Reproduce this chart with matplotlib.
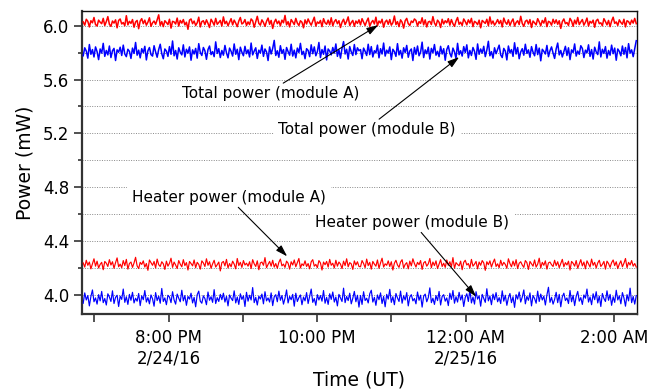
import numpy as np
import pandas as pd
import matplotlib
matplotlib.use("Agg")
import matplotlib.pyplot as plt
import matplotlib.dates as mdates
from matplotlib.ticker import FixedLocator, MultipleLocator

# mean levels (mW) and sample-to-sample deviations
# deviations are in steps of dev_step mW
total_a_level = 6.022
total_b_level = 5.803
heater_a_level = 4.224
heater_b_level = 3.968
dev_step = 0.0022

total_a_dev = [
    3, -8, 12, 5, -14, 7, 0, 18, -6, -11, 9, 2, -3, 15, -9, 4, 21, -5,
    -12, 6, -1, 10, -17, 8, 13, -4, 1, -10, 24, -7, 5, -2, 11, -15, 3, 8,
    -20, 6, 14, -3, 9, -8, 2, 17, -12, 0, 6, -5, 10, 27, -9, 4, -13, 7,
    1, -6, 12, -18, 5, 3, -4, 16, -11, 8, -1, 11, -7, 2, -22, 9, 13, -3,
    6, -9, 0, 19, -14, 4, 7, -6, 10, -2, -16, 12, 3, -8, 15, -5, 1, 8,
    -11, 20, -3, 5, -10, 2, 14, -7, 9, -1, -13, 6, 18, -4, 0, 11, -9, 3,
    -6, 13, 7, -15, 4, 22, -2, -8, 10, 1, -12, 5, 16, -5, 8, -19, 2, 12,
    -3, 6, -10, 9, 0, 25, -7, 4, -14, 11, 3, -6, 15, -1, -9, 7, 2, -17,
    10, -4, 13, 1, -8, 6, 19, -11, 3, -2, 8, -13, 14, 0, -5, 9, -7, 17,
    -10, 4, 11, -3, 7, -16, 2, 12, -6, 5, 20, -9, 1, 8, -12, 6, -2, 10,
    -7, 14, 2, -9, 5, 16, -12, 1, 8, -4, 19, -10, 6, -1, 12, -15, 3, 9,
    -5, 11, -8, 0, 23, -6, 4, -13, 10, 2, -18, 7, 15, -3, -9, 6, 1, 13,
    8, -11, 4, -2, 17, -7, 10, -14, 3, 5, -6, 21, -1, -10, 9, 2, -16, 12,
    -4, 7, 0, 14, -8, 11, -3, -12, 6, 18, -5, 2, -9, 13, 4, -7, 10, -1,
    15, -13, 5, 1, -6, 9, -17, 8, 3, -2, 12, -10, 20, -4, 6, -8, 0, 11,
    -3, 8, -14, 16, 2, -5, 10, -9, 4, 13, -11, 1, 7, -6, 22, -2, -12, 5,
    9, -4, 11, -16, 6, 0, -7, 14, 3, -10, 8, -1, 17, -13, 5, 2, -8, 12,
    -2, 10, -5, 7, -19, 4, 13, -3, 1, -9, 15, 6, -12, 9, -4, 18, -6, 3,
    11, -8, 2, 16, -11, 5, -1, 9, -15, 7, 12, -3, 0, -10, 14, 4, -7, 8,
    -13, 6, 19, -2, 3, -9, 10, 1, -5, 12, -14, 7, 4, -6, 9, -1, 15, -3,
]
total_b_dev = [
    -12, 15, 4, -20, 26, -7, 9, -16, 18, 2, -25, 11, -3, 30, -14, 6, -9, 21,
    -18, 5, 13, -28, 8, 0, 17, -11, 24, -6, -15, 10, 3, -21, 14, -4, 33, -10,
    7, -19, 12, -2, 20, -26, 5, 16, -8, -13, 22, 1, -17, 9, 27, -5, -22, 11,
    4, -14, 19, -7, 38, -12, 6, -23, 15, 0, -9, 25, -16, 10, -3, 18, -27, 8,
    -6, 13, -20, 29, -1, -11, 16, 5, -24, 9, 21, -8, 2, -15, 35, -4, 12, -18,
    6, -10, 23, -2, -19, 14, 3, -13, 28, -7, 10, -25, 17, 0, -12, 20, -5, 8,
    -16, 31, -9, 4, 15, -21, 7, -3, 24, -14, 11, 1, -28, 18, -6, 13, 40, -11,
    5, -17, 22, -4, 9, -24, 16, 2, -10, 27, -13, 7, -19, 14, -1, 30, -8, 3,
    -22, 12, 6, -15, 25, -5, 18, -12, 2, 33, -18, 9, -7, 21, -26, 11, 4, -9,
    16, -3, 28, -14, 8, -20, 13, 36, -6, 10, -23, 19, 1, -11, 26, -8, 15, 5,
    9, -22, 14, 3, -11, 27, -8, 19, -16, 5, -2, 24, -19, 12, -6, 31, -13, 7,
    -3, 18, -25, 10, 2, -14, 29, -9, 6, -20, 15, -1, 23, -17, 4, 11, -28, 16,
    -7, 21, -12, 0, 34, -18, 8, -5, 17, -23, 13, -2, 26, -10, 3, -15, 20, -6,
    12, -27, 9, 22, -4, -16, 14, 1, -21, 30, -8, 5, -13, 19, -1, 25, -19, 6,
    -11, 16, 3, -24, 28, -7, 11, -3, 20, -15, 7, 37, -12, 2, -20, 15, -5, 10,
    24, -9, -18, 13, 4, -26, 21, -2, 9, -14, 32, -6, 16, -22, 1, 12, -10, 27,
    -4, 8, -17, 19, 0, -12, 26, -8, 14, -29, 10, 3, -6, 23, -15, 5, 18, -3,
    -21, 11, 31, -9, 6, -16, 2, 20, -11, 15, -25, 8, -1, 28, -13, 4, -7, 22,
    13, -18, 7, -2, 25, -14, 9, -23, 17, 1, -8, 35, -16, 10, -4, 19, -20, 6,
    -10, 24, -5, 14, -27, 11, 3, -12, 21, -7, 16, -19, 29, -3, 8, -15, 12, 39,
]
heater_a_dev = [
    5, -9, 14, -3, 8, -15, 2, 19, -6, 11, -12, 0, 7, -18, 10, 4, -7, 16,
    -2, 9, -13, 6, 22, -8, 1, -11, 13, -4, 17, -16, 3, 8, -10, 5, 24, -5,
    -14, 7, 0, 12, -9, 3, -20, 15, 6, -3, 10, -12, 18, -1, -7, 9, 2, -17,
    11, -6, 4, 21, -10, 8, -2, -14, 13, 1, -8, 16, -4, 6, -19, 10, 3, -5,
    15, -11, 7, 0, -16, 12, 5, -7, 19, -3, 9, -13, 2, 14, -9, -1, 8, -22,
    6, 10, -5, 17, -12, 3, -8, 11, 1, -15, 20, -4, 7, -10, 13, -2, 4, -6,
    9, -14, 16, 2, -7, 12, -18, 5, 8, -3, 23, -11, 0, 10, -6, 14, -9, 3,
    -13, 7, 18, -5, 1, -10, 11, 4, -16, 9, -2, 15, -8, 6, 20, -12, 2, -4,
    12, -7, 3, -15, 9, 16, -6, 0, -11, 13, 5, -19, 8, -1, 10, -9, 17, -3,
    4, -12, 14, -6, 8, 1, -14, 11, -4, 19, -8, 6, 2, -17, 12, -2, 9, -7,
    -8, 13, 3, -11, 18, -4, 7, -16, 10, 1, -6, 15, -13, 5, 21, -9, 2, -3,
    12, -7, 9, -19, 4, 14, -2, -10, 8, 16, -12, 0, 6, -15, 11, -5, 19, 3,
    -9, 7, -1, 13, -17, 5, 10, -6, 2, 20, -11, 8, -4, 12, -14, 1, 16, -7,
    4, -10, 15, -3, 9, -8, 23, -13, 6, 0, -5, 11, -18, 7, 14, -2, 3, -12,
    17, -6, 1, 10, -15, 8, -3, 13, 5, -20, 9, -1, 12, -9, 6, 18, -7, 2,
    -11, 14, -4, 7, 0, -13, 19, 3, -8, 11, -5, 16, -14, 4, 9, -2, -10, 13,
    6, -17, 10, 2, -6, 15, -9, 1, 21, -12, 7, -3, 12, -16, 5, 8, -1, -7,
    14, -4, 9, -11, 3, 17, -8, 6, -2, 11, -19, 10, 4, -6, 13, -13, 1, 16,
    -5, 8, -15, 12, 2, -9, 18, -3, 7, -12, 5, 14, -7, 0, 10, -16, 11, 3,
    -10, 6, 15, -4, 9, -14, 1, 12, -8, 4, 20, -11, 7, -2, 13, -6, 3, -9,
]
heater_b_dev = [
    -15, 20, -4, 11, -24, 8, 30, -10, 3, -18, 14, -7, 25, -13, 1, -21, 17, 6,
    -9, 27, -16, 5, 12, -26, 9, -2, 33, -12, 7, -19, 15, -5, 22, -14, 2, -8,
    18, -23, 10, -3, 28, -11, 4, -17, 13, 0, -25, 21, -6, 9, -15, 35, -9, 3,
    -20, 12, 6, -13, 24, -4, -18, 16, 2, -10, 29, -7, 11, -22, 8, -1, 19, -14,
    5, -27, 14, 26, -8, -15, 10, 1, -20, 23, -5, 7, -12, 31, -16, 4, -9, 15,
    -3, 19, -11, 8, -24, 13, 2, -6, 27, -14, 6, -19, 17, -2, 10, -26, 22, -8,
    12, -4, 38, -13, 5, -21, 9, -1, 16, -17, 24, -7, 3, -11, 20, -23, 7, 14,
    -10, 26, -5, 11, -18, 2, 30, -14, 8, -3, 15, -25, 19, -9, 4, 13, -20, 6,
    -7, 21, -16, 9, 33, -12, 1, -22, 14, -4, 11, -8, 28, -15, 5, -19, 17, -2,
    23, -11, 6, -24, 15, 3, -9, 36, -13, 8, -6, 19, -17, 2, 25, -10, 12, -28,
    11, -19, 24, -6, 2, -14, 17, 29, -11, 5, -22, 13, -3, 20, -16, 8, -27, 15,
    -1, 32, -12, 7, -20, 18, 3, -9, 26, -15, 10, -4, 21, -24, 6, 14, -7, 1,
    -17, 23, -5, 12, -28, 9, 16, -10, 4, 37, -13, 2, -19, 11, -6, 25, -21, 8,
    14, -8, 3, -23, 19, -2, 28, -15, 7, -11, 22, -4, 13, -26, 5, 17, -9, 31,
    -14, 6, -18, 24, -1, 10, -25, 15, 2, -12, 34, -7, 9, -20, 16, -3, 21, -10,
    4, -16, 27, -8, 12, -22, 3, 18, -13, 7, -29, 14, -1, 23, -11, 6, 30, -17,
    8, -5, 20, -24, 11, 1, -15, 26, -9, 16, -4, 9, -21, 13, 39, -12, 5, -18,
    -2, 22, -13, 15, -27, 7, 19, -6, 3, -16, 28, -10, 12, -23, 8, 25, -8, 4,
    -19, 13, 2, 33, -11, 6, -20, 17, -3, 24, -14, 9, -26, 18, 1, -9, 27, -5,
    15, -22, 7, -12, 29, -4, 10, -17, 21, 3, -25, 14, -7, 36, -13, 8, -18, 11,
]

t_start = "2016-02-24 18:51"
t_end = "2016-02-25 02:18"

tick_times = ["2016-02-24 20:00", "2016-02-24 22:00", "2016-02-25 00:00", "2016-02-25 02:00"]
tick_labels = ["8:00 PM\n2/24/16", "10:00 PM", "12:00 AM\n2/25/16", "2:00 AM"]
minor_times = ["2016-02-24 19:00", "2016-02-24 21:00", "2016-02-24 23:00", "2016-02-25 01:00"]

y_ticks = [4.0, 4.4, 4.8, 5.2, 5.6, 6.0]

times = pd.date_range(t_start, t_end, periods=len(total_a_dev))
tx = mdates.date2num(times.to_pydatetime())

def mw(level, dev):
    return level + np.array(dev) * dev_step

def tnum(s):
    return mdates.date2num(pd.Timestamp(s).to_pydatetime())

plt.rcParams['font.family'] = ['DejaVu Sans']

fig = plt.figure(figsize=(6.61, 3.92), dpi=100)
ax = fig.add_axes([0.124, 0.199, 0.8397, 0.773])

ax.plot(tx, mw(total_a_level, total_a_dev), color="#ff0000", lw=1.1, zorder=3)
ax.plot(tx, mw(total_b_level, total_b_dev), color="#0000ff", lw=1.1, zorder=3)
ax.plot(tx, mw(heater_a_level, heater_a_dev), color="#ff0000", lw=0.85, zorder=3)
ax.plot(tx, mw(heater_b_level, heater_b_dev), color="#0000ff", lw=0.85, zorder=3)

ax.set_xlim(tnum("2016-02-24 18:50"), tnum("2016-02-25 02:18:36"))
ax.set_ylim(3.855, 6.11)

ax.xaxis.set_major_locator(FixedLocator([tnum(s) for s in tick_times]))
ax.xaxis.set_minor_locator(FixedLocator([tnum(s) for s in minor_times]))
ax.set_xticklabels(tick_labels)
ax.yaxis.set_major_locator(FixedLocator(y_ticks))
ax.yaxis.set_minor_locator(MultipleLocator(0.2))
ax.set_yticklabels(["%.1f" % v for v in y_ticks])

ax.tick_params(axis="both", which="major", direction="out", length=5.5, width=1.1,
               labelsize=12, color="#222222")
ax.tick_params(axis="x", which="minor", direction="out", length=5.5, width=1.1, color="#222222")
ax.tick_params(axis="y", which="minor", direction="out", length=3, width=1.1, color="#222222")
ax.tick_params(axis="x", which="major", pad=5)

ax.grid(True, axis="y", which="both", linestyle=(0, (1, 1.5)), color="#888888", lw=0.7, zorder=0)
ax.set_axisbelow(True)

for side in ["left", "bottom"]:
    ax.spines[side].set_linewidth(1.6)
    ax.spines[side].set_color("#333333")
for side in ["top", "right"]:
    ax.spines[side].set_linewidth(1.0)
    ax.spines[side].set_color("#111111")

ax.set_xlabel("Time (UT)", fontsize=13.5, labelpad=2)
ax.set_ylabel("Power (mW)", fontsize=13.5, labelpad=6)

# annotations: text boxes and arrows
notes = [
    ("Total power (module A)", "2016-02-24 21:22:30", 5.498,
     "2016-02-24 21:32:40", 5.573, "2016-02-24 22:49:30", 6.005),
    ("Total power (module B)", "2016-02-24 22:40:30", 5.230,
     "2016-02-24 22:50:10", 5.305, "2016-02-24 23:54:50", 5.767),
    ("Heater power (module A)", "2016-02-24 20:49:00", 4.724,
     "2016-02-24 20:56:20", 4.649, "2016-02-24 21:35:50", 4.284),
    ("Heater power (module B)", "2016-02-24 23:16:30", 4.537,
     "2016-02-24 23:24:10", 4.462, "2016-02-25 00:08:30", 3.985),
]
for label, tx0, ty0, ax0, ay0, hx, hy in notes:
    ax.text(tnum(tx0), ty0, label, ha="center", va="center", fontsize=11, zorder=4,
            bbox=dict(facecolor="white", edgecolor="none", pad=3.5))
    ax.annotate("", xy=(tnum(hx), hy), xytext=(tnum(ax0), ay0), zorder=5,
                arrowprops=dict(arrowstyle="-|>,head_length=0.7,head_width=0.22",
                                color="black", lw=0.8, mutation_scale=10,
                                shrinkA=0, shrinkB=0))

fig.savefig("out.png", dpi=100)
